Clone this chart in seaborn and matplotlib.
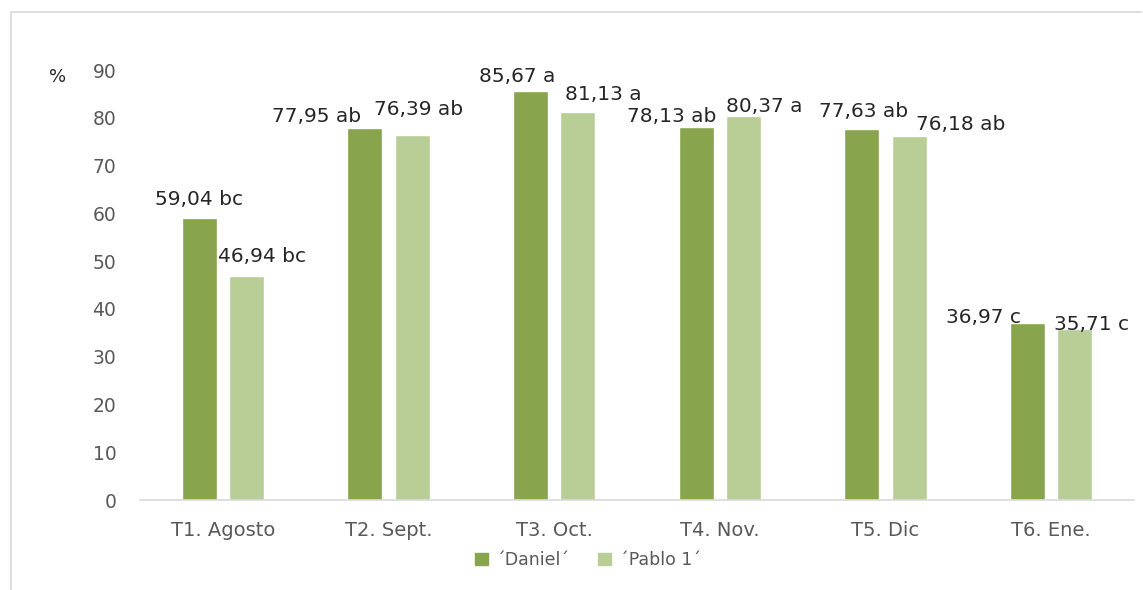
import matplotlib
matplotlib.use("Agg")
import matplotlib.pyplot as plt
import seaborn as sns
import pandas as pd
from matplotlib.patches import Rectangle
from matplotlib.lines import Line2D

categories = ["T1. Agosto", "T2. Sept.", "T3. Oct.", "T4. Nov.", "T5. Dic", "T6. Ene."]
series_names = ["´Daniel´", "´Pablo 1´"]
daniel = [59.04, 77.95, 85.67, 78.13, 77.63, 36.97]
pablo = [46.94, 76.39, 81.13, 80.37, 76.18, 35.71]
daniel_letters = ["bc", "ab", "a", "ab", "ab", "c"]
pablo_letters = ["bc", "ab", "a", "a", "ab", "c"]
yticks = [0, 10, 20, 30, 40, 50, 60, 70, 80, 90]

colors = ["#88A44C", "#B9CD96"]

# label offsets in pixels (dx, dy above bar top) -- style only
daniel_off = [(0, 18), (-48, 11), (-13, 14), (-25, 10), (2, 18), (-44, 6)]
pablo_off = [(16, 19), (6, 26), (26, 18), (21, 10), (52, 12), (17, 5)]

sns.set_theme(style="white")
plt.rcParams['font.family'] = ['DejaVu Sans']

df = pd.DataFrame({
    "cat": categories * 2,
    "val": daniel + pablo,
    "series": [series_names[0]] * len(categories) + [series_names[1]] * len(categories),
})

W, H, DPI = 1143, 590, 100
fig = plt.figure(figsize=(W / DPI, H / DPI), dpi=DPI)
ax = fig.add_axes([140 / W, (H - 500) / H, (1134 - 140) / W, (500 - 70) / H])

sns.barplot(data=df, x="cat", y="val", hue="series", palette=colors, width=0.57, gap=0.26,
            ax=ax, legend=False, saturation=1, errorbar=None)

ax.set_xlim(-0.5, len(categories) - 0.5)
ax.set_ylim(0, 90)
ax.set_yticks(yticks)
ax.set_yticklabels([str(t) for t in yticks])
ax.set_xlabel("")
ax.set_ylabel("")
for s in ["top", "right", "left"]:
    ax.spines[s].set_visible(False)
ax.spines["bottom"].set_color("#D9D9D9")
ax.spines["bottom"].set_linewidth(1.2)
ax.tick_params(axis="y", length=0, pad=17, labelsize=13.5, labelcolor="#595959")
ax.tick_params(axis="x", length=0, pad=15, labelsize=14, labelcolor="#595959")

# data labels
dpatches = [p for p in ax.patches if p.get_facecolor()[:3] == matplotlib.colors.to_rgb(colors[0])]
ppatches = [p for p in ax.patches if p.get_facecolor()[:3] == matplotlib.colors.to_rgb(colors[1])]
dpatches.sort(key=lambda p: p.get_x())
ppatches.sort(key=lambda p: p.get_x())
for plist, vals, lets, offs in [(dpatches, daniel, daniel_letters, daniel_off),
                                (ppatches, pablo, pablo_letters, pablo_off)]:
    for p, v, l, (dx, dy) in zip(plist, vals, lets, offs):
        txt = f"{v:.2f}".replace(".", ",") + " " + l
        ax.annotate(txt, (p.get_x() + p.get_width() / 2, p.get_height()),
                    xytext=(dx * 0.72, dy * 0.72), textcoords="offset points",
                    ha="center", va="center", fontsize=14.5, color="#262626",
                    annotation_clip=False)

# % label
fig.text(58 / W, 1 - 77 / H, "%", ha="center", va="center", fontsize=13, color="#262626")

# legend
handles = [Rectangle((0, 0), 1, 1, color=c) for c in colors]
fig.legend(handles, series_names, loc="center", bbox_to_anchor=(588 / W, 1 - 560 / H),
           ncol=2, frameon=False, fontsize=12.5, handlelength=0.75, handleheight=0.75,
           columnspacing=1.6, handletextpad=0.5, labelcolor="#595959")

# chart frame (left and top edges visible)
fig.add_artist(Line2D([11 / W, 11 / W], [0, 1 - 12 / H], color="#D9D9D9", lw=1.2))
fig.add_artist(Line2D([11 / W, 0.9995], [1 - 12 / H, 1 - 12 / H], color="#D9D9D9", lw=1.2,
                      solid_capstyle="butt"))

fig.savefig("out.png", dpi=DPI)
